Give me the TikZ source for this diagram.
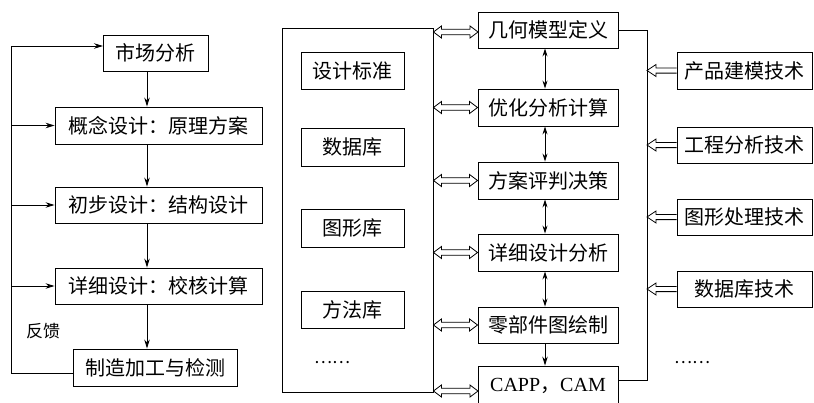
\documentclass[tikz,border=0pt]{standalone}
\usepackage{fontspec}
\setmainfont{Noto Sans CJK SC}
\newfontfamily\lat{Liberation Serif}
\usetikzlibrary{arrows.meta,calc}
\begin{document}
\begin{tikzpicture}[x=1pt,y=-1pt,
  box/.style={draw, line width=0.9pt, inner sep=0pt, font=\fontsize{20}{23}\selectfont},
  arr/.style={-{Stealth[length=9pt,width=5.5pt]}, line width=0.9pt},
  darr/.style={{Stealth[length=8pt,width=5pt]}-{Stealth[length=8pt,width=5pt]}, line width=0.9pt},
  harr/.style={line width=0.8pt, line join=miter, to path={let \p1=(\tikztostart), \p2=(\tikztotarget) in
     (\x1,\y1) -- ({\x1+8pt},{\y1+6pt}) -- ({\x1+8pt},{\y1+2.8pt}) -- ({\x2-8pt},{\y2+2.8pt})
     -- ({\x2-8pt},{\y2+6pt}) -- (\x2,\y2) -- ({\x2-8pt},{\y2-6pt}) -- ({\x2-8pt},{\y2-2.8pt})
     -- ({\x1+8pt},{\y1-2.8pt}) -- ({\x1+8pt},{\y1-6pt}) -- cycle}},
  hrarr/.style={line width=0.8pt, line join=miter, to path={let \p1=(\tikztostart), \p2=(\tikztotarget) in
     (\x1,{\y1+2.6pt}) -- ({\x2+9pt},{\y2+2.6pt}) -- ({\x2+9pt},{\y2+6pt}) -- (\x2,\y2)
     -- ({\x2+9pt},{\y2-6pt}) -- ({\x2+9pt},{\y2-2.6pt}) -- (\x1,{\y1-2.6pt})}},
  lbl/.style={inner sep=0pt, font=\fontsize{17}{20}\selectfont},
  dots/.style={inner sep=0pt, font=\fontsize{17}{20}\selectfont}
]
\useasboundingbox (0,0) rectangle (814,402);
\clip (0,0) rectangle (814,402);

% left column
\node[box, minimum width=105pt, minimum height=36pt] (l1) at (155.5,53) {市场分析};
\node[box, minimum width=207pt, minimum height=37pt] (l2) at (158.5,125.5) {概念设计：原理方案};
\node[box, minimum width=207pt, minimum height=36pt] (l3) at (158.5,205) {初步设计：结构设计};
\node[box, minimum width=207pt, minimum height=36pt] (l4) at (158.5,286) {详细设计：校核计算};
\node[box, minimum width=164pt, minimum height=37pt] (l5) at (155,367.5) {制造加工与检测};
\node[lbl] (fbl) at (43,331) {反馈};

\coordinate (vx) at (147,0);
\draw[arr] (l1.south -| vx) -- (l2.north -| vx);
\draw[arr] (l2.south -| vx) -- (l3.north -| vx);
\draw[arr] (l3.south -| vx) -- (l4.north -| vx);
\draw[arr] (l4.south -| vx) -- (l5.north -| vx);

\coordinate (fb) at (11,373);
\coordinate (l1in) at (103,46);
\draw[line width=0.9pt] (l5.west |- fb) -- (fb) -- (fb |- l1in);
\draw[arr] (fb |- l1in) -- (l1in);
\draw[arr] (fb |- l2.west) -- (l2.west);
\draw[arr] (fb |- l3.west) -- (l3.west);
\draw[arr] (fb |- l4.west) -- (l4.west);

% middle big box
\node[box, minimum width=151pt, minimum height=364pt] (big) at (357.5,210) {};
\node[box, minimum width=103pt, minimum height=37pt] (i1) at (352.5,70.5) {设计标准};
\node[box, minimum width=103pt, minimum height=38pt] (i2) at (352.5,147) {数据库};
\node[box, minimum width=103pt, minimum height=38pt] (i3) at (352.5,228) {图形库};
\node[box, minimum width=103pt, minimum height=37pt] (i4) at (352.5,309.5) {方法库};
\node[dots] (d1) at (332,363) {……};

% chain
\node[box, minimum width=140pt, minimum height=36pt] (c1) at (548,30) {几何模型定义};
\node[box, minimum width=140pt, minimum height=37pt] (c2) at (548,107.5) {优化分析计算};
\node[box, minimum width=140pt, minimum height=37pt] (c3) at (548,180.5) {方案评判决策};
\node[box, minimum width=140pt, minimum height=37pt] (c4) at (548,252.5) {详细设计分析};
\node[box, minimum width=140pt, minimum height=36pt] (c5) at (548,325) {零部件图绘制};
\node[box, minimum width=140pt, minimum height=40pt] (c6) at (548,386) {{\lat CAPP}，{\lat CAM}};

\coordinate (cx) at (545,0);
\draw[darr] (c1.south -| cx) -- (c2.north -| cx);
\draw[darr] (c2.south -| cx) -- (c3.north -| cx);
\draw[darr] (c3.south -| cx) -- (c4.north -| cx);
\draw[darr] (c4.south -| cx) -- (c5.north -| cx);
\draw[arr] (c5.south -| cx) -- (c6.north -| cx);

\coordinate (h1) at (478,32);
\coordinate (h6) at (478,391);
\draw[harr] (big.east |- h1) to (h1);
\draw[harr] (big.east |- c2.west) to (c2.west);
\draw[harr] (big.east |- c3.west) to (c3.west);
\draw[harr] (big.east |- c4.west) to (c4.west);
\draw[harr] (big.east |- c5.west) to (c5.west);
\draw[harr] (big.east |- h6) to (h6);

% bracket
\coordinate (br) at (647,380);
\draw[line width=0.9pt] (c1.east) -| (br) -- (c6.east |- br);

% right column
\node[box, minimum width=135.5pt, minimum height=37pt] (r1) at (744.75,70.5) {产品建模技术};
\node[box, minimum width=135.5pt, minimum height=36pt] (r2) at (744.75,145) {工程分析技术};
\node[box, minimum width=135.5pt, minimum height=36pt] (r3) at (744.75,217) {图形处理技术};
\node[box, minimum width=135.5pt, minimum height=36pt] (r4) at (744.75,289) {数据库技术};
\node[dots] (d2) at (692,363) {……};

\draw[hrarr] (r1.west) to (r1.west -| br);
\draw[hrarr] (r2.west) to (r2.west -| br);
\draw[hrarr] (r3.west) to (r3.west -| br);
\draw[hrarr] (r4.west) to (r4.west -| br);
\end{tikzpicture}
\end{document}
